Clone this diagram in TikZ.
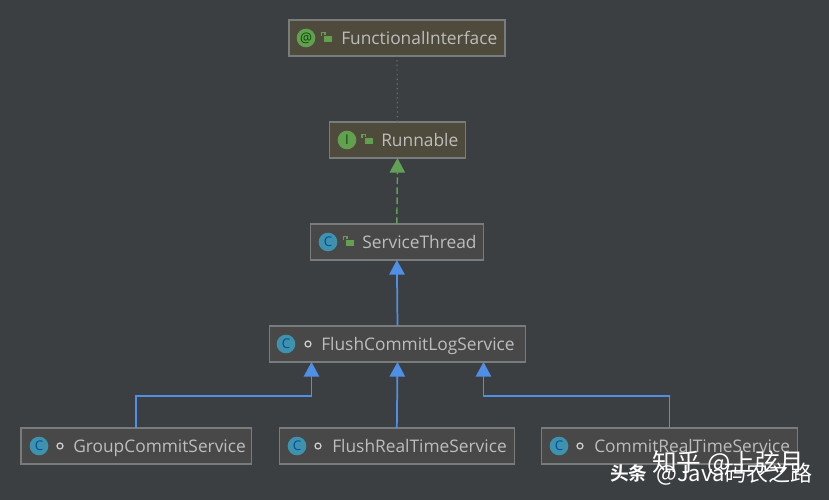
\documentclass[tikz,border=0pt]{standalone}
\usepackage{fontspec}
\setmainfont{Open Sans}
\newfontfamily\cjk{Noto Sans CJK SC}[BoldFont={* Bold}]
\usetikzlibrary{arrows.meta,calc}
\definecolor{bg}{HTML}{3C3F41}
\definecolor{boxline}{HTML}{787C7C}
\definecolor{classfill}{HTML}{484848}
\definecolor{ifacefill}{HTML}{4E4A3C}
\definecolor{ink}{HTML}{BDBDBD}
\definecolor{blueedge}{HTML}{4F8FE6}
\definecolor{greenedge}{HTML}{62A055}
\definecolor{iconblue}{HTML}{3E92AE}
\definecolor{icongreen}{HTML}{62A04F}
\definecolor{dotline}{HTML}{66745F}
\tikzset{
  x=0.75pt,y=-0.75pt,
  umlbox/.style={draw=boxline,line width=0.8pt,minimum height=27pt,inner sep=0pt,outer sep=0pt,anchor=north west},
  classbox/.style={umlbox,fill=classfill},
  ifacebox/.style={umlbox,fill=ifacefill},
  label text/.style={text=ink,font=\fontsize{13pt}{15pt}\selectfont,anchor=base west,inner sep=0pt},
  kind icon/.style={circle,minimum size=14pt,inner sep=0pt,font=\fontsize{10pt}{11pt}\selectfont},
  class icon/.style={kind icon,fill=iconblue,text=black!55!blue!70!cyan},
  iface icon/.style={kind icon,fill=icongreen,text=black!70!green},
  pkg dot/.style={circle,draw=ink!70,line width=0.9pt,minimum size=4.5pt,inner sep=0pt},
  lock body/.style={draw=none,fill=icongreen,minimum width=6pt,minimum height=5pt,inner sep=0pt},
  inherit/.style={draw=blueedge,line width=1.3pt,-{Triangle[width=11.5pt,length=11pt,fill=blueedge]}},
  implement/.style={draw=greenedge,line width=1.1pt,dash pattern=on 5pt off 2.5pt,-{Triangle[width=11.5pt,length=11pt,fill=greenedge]}},
  annot/.style={draw=dotline,line width=0.9pt,dash pattern=on 1pt off 2.5pt},
  mark text/.style={text=white,inner sep=0pt,anchor=base west},
}
\newcommand{\lockicon}[2]{%
  \node[lock body] (#1) at (#2) {};
  \draw[icongreen,line width=1pt] ($(#1.north west)+(0.9pt,0)$) -- ++(0,2pt) -- ++(-2.6pt,0) -- ++(0,-2.6pt);
}
\begin{document}
\begin{tikzpicture}
\fill[bg] (0,0) rectangle (829,500);
\useasboundingbox (0,0) rectangle (829,500);

\node[ifacebox,minimum width=162pt] (fi) at (289,20) {};
\node[ifacebox,minimum width=102pt] (run) at (329.5,122) {};
\node[classbox,minimum width=129.5pt] (st) at (310.5,224) {};
\node[classbox,minimum width=192pt] (fc) at (269.5,326) {};
\node[classbox,minimum width=173pt] (gc) at (21,428) {};
\node[classbox,minimum width=176pt] (fr) at (279.5,428) {};
\node[classbox,minimum width=192pt] (cr) at (541.5,428) {};

\node[iface icon] (i1) at (306,38) {@};
\node[iface icon] (i2) at (347,140) {I};
\node[class icon] (i3) at (328,242) {C};
\node[class icon] (i4) at (286,344) {C};
\node[class icon] (i5) at (39,446) {C};
\node[class icon] (i6) at (297,446) {C};
\node[class icon] (i7) at (559,446) {C};

\lockicon{l1}{328,39}
\lockicon{l2}{368.5,141}
\lockicon{l3}{350,243}
\node[pkg dot] (d4) at (308,344) {};
\node[pkg dot] (d5) at (60,446) {};
\node[pkg dot] (d6) at (318,446) {};
\node[pkg dot] (d7) at (580,446) {};

\node[label text] (t1) at (341,44) {FunctionalInterface};
\node[label text] (t2) at (381,146) {Runnable};
\node[label text] (t3) at (362,248) {ServiceThread};
\node[label text] (t4) at (321,350) {FlushCommitLogService};
\node[label text] (t5) at (73,452) {GroupCommitService};
\node[label text] (t6) at (332,452) {FlushRealTimeService};
\node[label text] (t7) at (594,452) {CommitRealTimeService};

\draw[annot] (run.north) -- (fi.south);
\draw[implement] (st.north) -- (run.south);
\draw[inherit] (fc.north) -- (st.south);
\coordinate (fcl) at ($(fc.south)+(-86,0)$);
\coordinate (fcr) at ($(fc.south)+(86,0)$);
\draw[inherit] (gc.north) |- (137,396) -| (fcl);
\draw[inherit] (fr.north) -- (fc.south);
\draw[inherit] (cr.north) |- (670,396) -| (fcr);

\node[mark text,font=\cjk\fontsize{18.5pt}{20pt}\selectfont] (m1) at (652,471) {知乎 @上弦月};
\node[mark text,font=\cjk\bfseries\fontsize{14pt}{16pt}\selectfont] (m2) at (610,480) {头条};
\node[mark text,font=\cjk\fontsize{16.5pt}{18pt}\selectfont] (m3) at (656,481) {@Java码农之路};
\end{tikzpicture}
\end{document}
